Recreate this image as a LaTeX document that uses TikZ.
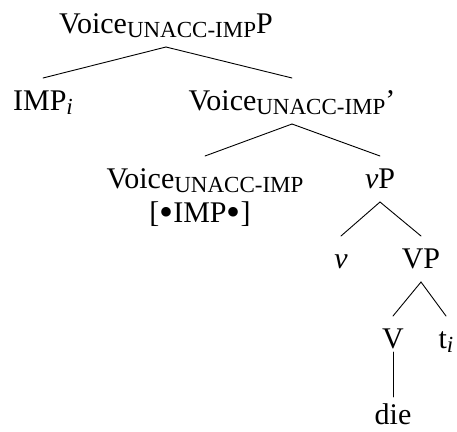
\documentclass[tikz,border=0pt]{standalone}
\usepackage{fontspec}
\setmainfont{Liberation Serif}
% lowered, smaller text for category subscripts and indices
\newcommand\subsc[1]{\raisebox{-4pt}{\fontsize{23}{23}\selectfont #1}}
\newcommand\idx{\subsc{\itshape i}}
% enlarged bullet for feature brackets (kept out of the line height)
\newcommand\bul{\raisebox{-3pt}[0pt][0pt]{\fontsize{40}{40}\selectfont •}}
\begin{document}
\begin{tikzpicture}[x=1pt, y=-1pt,
  lbl/.style={anchor=base, inner sep=0pt, font=\fontsize{30}{33}\selectfont},
  branch/.style={line width=0.9pt, line cap=round}]
\useasboundingbox (0,0) rectangle (457,431);

% labels, placed by their baselines
\node[lbl] (root) at (166,33)  {Voice\subsc{UNACC-IMP}P};
\node[lbl] (imp)  at (43,110)  {IMP\idx};
\node[lbl] (vbar) at (292,110) {Voice\subsc{UNACC-IMP}’};
\node[lbl] (voice) at (205,188) {Voice\subsc{UNACC-IMP}};
\node[lbl] (feat) at (200,222) {[\bul IMP\bul]};
\node[lbl] (vp)   at (380,188) {\textit{v}P};
\node[lbl] (lv)   at (341,268) {\textit{v}};
\node[lbl] (VP)   at (421,268) {VP};
\node[lbl] (V)    at (393,348) {V};
\node[lbl] (t)    at (446,348) {t\idx};
\node[lbl] (die)  at (393,424) {die};

% branches: from below the parent's baseline to above the child's capitals
\foreach \p/\c in {root/imp, root/vbar, vbar/voice, vbar/vp, vp/lv, vp/VP, VP/V, VP/t}
  \draw[branch] ([yshift=-14pt]\p.base) -- ([yshift=32pt]\c.base);
\draw[branch] ([yshift=-4pt]V.base) -- ([yshift=27pt]die.base);
\end{tikzpicture}
\end{document}
